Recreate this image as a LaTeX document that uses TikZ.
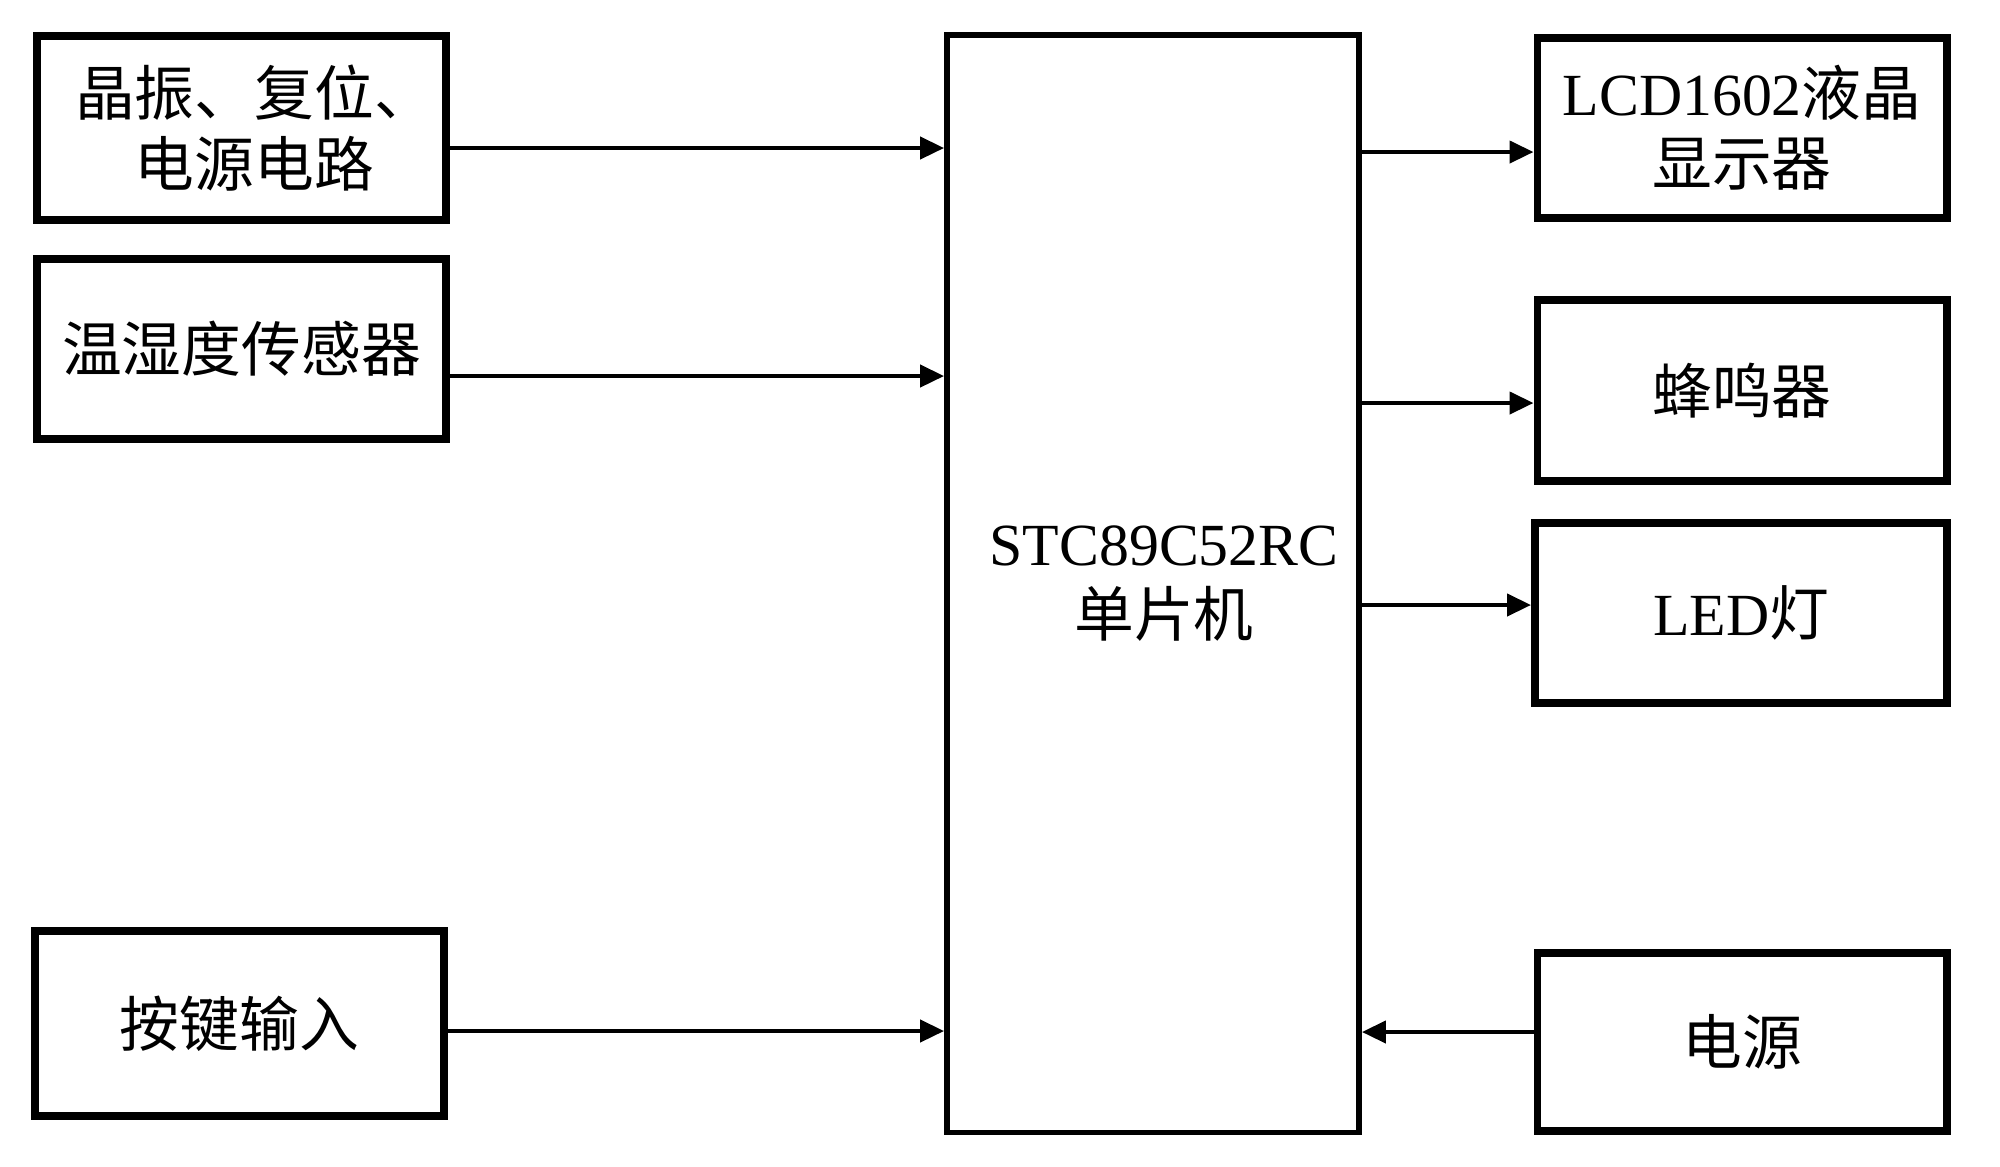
\documentclass[tikz,border=0pt]{standalone}
\usepackage{fontspec}
\setmainfont{Liberation Serif}
\newfontfamily\cjk{Noto Sans CJK SC}
\usetikzlibrary{arrows.meta}
\begin{document}
\begin{tikzpicture}[x=0.01cm, y=-0.01cm, >={Triangle[length=0.24cm,width=0.22cm]},
    every node/.style={font=\fontsize{17}{20}\selectfont, align=center, inner sep=0pt},
    blk/.style={draw, line width=2.2pt, minimum width=4.09cm},
    arr/.style={->, line width=1.2pt}]
    \useasboundingbox (0,0) rectangle (2000,1166);
    \node[blk, minimum height=1.84cm] (osc) at (241.5,128) {\hspace*{0.26cm}\cjk 晶振、复位、\\\hspace*{0.26cm}\cjk 电源电路};
    \node[blk, minimum height=1.80cm] (sen) at (241.5,349) {\cjk 温湿度传感器};
    \node[blk, minimum height=1.85cm] (key) at (239.5,1023.5) {\cjk 按键输入};
    \node[draw, line width=1.6pt, minimum width=4.12cm, minimum height=10.97cm] (mcu) at (1153,583.5)
        {\hspace*{0.22cm}STC89C52RC\\\hspace*{0.22cm}\cjk 单片机};
    \node[blk, minimum height=1.80cm] (lcd) at (1742,128) {LCD1602{\cjk 液晶}\\\cjk 显示器};
    \node[blk, minimum height=1.81cm] (bz) at (1742,390.5) {\cjk 蜂鸣器};
    \node[blk, minimum width=4.12cm, minimum height=1.80cm] (led) at (1741,613) {LED{\cjk 灯}};
    \node[blk, minimum height=1.78cm] (pwr) at (1742,1042) {\cjk 电源};
    \draw[arr] ([yshift=-0.20cm]osc.east) -- ([yshift=-0.20cm]osc.east -| mcu.west);
    \draw[arr] ([yshift=-0.27cm]sen.east) -- ([yshift=-0.27cm]sen.east -| mcu.west);
    \draw[arr] ([yshift=-0.075cm]key.east) -- ([yshift=-0.075cm]key.east -| mcu.west);
    \draw[arr] ([yshift=-0.24cm]lcd.west -| mcu.east) -- ([yshift=-0.24cm]lcd.west);
    \draw[arr] ([yshift=-0.125cm]bz.west -| mcu.east) -- ([yshift=-0.125cm]bz.west);
    \draw[arr] ([yshift=0.08cm]led.west -| mcu.east) -- ([yshift=0.08cm]led.west);
    \draw[arr] ([yshift=0.10cm]pwr.west) -- ([yshift=0.10cm]pwr.west -| mcu.east);
\end{tikzpicture}
\end{document}
